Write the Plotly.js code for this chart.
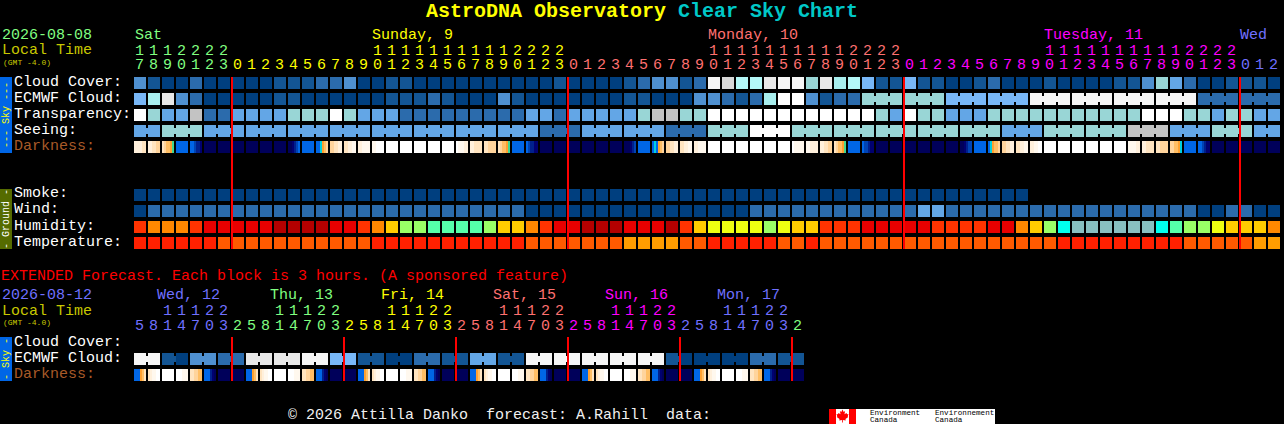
<!DOCTYPE html>
<html><head><meta charset="utf-8">
<script src="https://cdn.plot.ly/plotly-3.0.1.min.js"></script>
<style>html,body{margin:0;padding:0;background:#000;overflow:hidden}#chart{width:1284px;height:424px}</style>
</head><body><div id="chart"></div>
<script>
// ---------- data ----------
const hours = [17,18,19,20,21,22,23,
 0,1,2,3,4,5,6,7,8,9,10,11,12,13,14,15,16,17,18,19,20,21,22,23,
 0,1,2,3,4,5,6,7,8,9,10,11,12,13,14,15,16,17,18,19,20,21,22,23,
 0,1,2,3,4,5,6,7,8,9,10,11,12,13,14,15,16,17,18,19,20,21,22,23,
 0,1,2];
const extHours = [5,8,11,14,17,20,23,
 2,5,8,11,14,17,20,23, 2,5,8,11,14,17,20,23, 2,5,8,11,14,17,20,23,
 2,5,8,11,14,17,20,23, 2,5,8,11,14,17,20,23, 2];
const dayColors = ["#80FF80","#FFFF00","#FF7070","#FF00FF","#7070FF"];
const extDayColors = ["#7070FF","#80FF80","#FFFF00","#FF7070","#FF00FF","#7070FF","#80FF80"];
const dayLabels = ["Sat","Sunday, 9","Monday, 10","Tuesday, 11","Wed"];
const extDayLabels = ["Wed, 12","Thu, 13","Fri, 14","Sat, 15","Sun, 16","Mon, 17"];
const skyLabels = ["Cloud Cover:","ECMWF Cloud:","Transparency:","Seeing:","Darkness:"];
const groundLabels = ["Smoke:","Wind:","Humidity:","Temperature:"];
const extLabels = ["Cloud Cover:","ECMWF Cloud:","Darkness:"];

const skyPalette = ["#003F7F","#135594","#2B6BAC","#4F90D0","#78B7F7","#63A6E6","#99D6D6","#A8EEEE","#B4F8F8","#C3C3C3","#D8D8D8","#E8E8E8","#F6F6F6","#FFFFFF"];
const cloudCover = [3,1,0,0,2,0,0,0,0,0,1,1,1,2,2,3,0,0,1,1,0,
 0,0,0,0,0,0,0,0,0,1,0,0,0,0,1,2,3,3,1,2,12,10,8,8,11,12,12,6,11,7,8,
 4,1,1,4,1,1,0,0,1,2,0,0,0,1,0,0,0,0,1,1,3,6,5,2,0,0,1,1,1,0];
const ecmwfCloud = [4,7,11,3,2,0,0,0,0,0,1,1,0,0,0,0,0,0,1,1,1,
 2,1,0,0,0,3,1,0,0,0,0,0,0,0,1,1,0,0,0,3,3,2,1,2,7,13,13,3,1,2,2,
 6,6,6,6,6,6,4,4,4,4,4,4,12,12,12,12,12,12,12,12,12,12,12,12,2,2,2,2,2,2];
const transparency = [13,6,5,5,9,2,2,5,5,5,5,6,6,6,13,6,5,5,5,2,2,
 2,2,2,2,2,2,2,5,5,2,5,5,5,5,5,6,9,9,6,6,13,13,13,13,13,13,13,13,13,13,13,
 13,6,5,13,6,6,5,5,5,6,6,6,6,6,6,6,6,6,6,6,13,13,13,6,6,5,6,6,5,5];
const seeing = [5,5,6,6,6,5,5,5,5,5,5,5,5,5,5,5,5,5,5,5,5,5,5,5,5,5,5,5,5,
 2,2,2,5,5,5,5,5,5,2,2,2,6,6,6,13,13,13,6,6,6,6,6,6,
 6,6,6,6,6,6,6,6,6,5,5,5,6,6,6,6,6,6,9,9,9,5,5,5,6,6,6,5,5];
const seeingGroups = [2,3,3,3,3,3,3,3,3,3,3,3,3,3,3,3,3,3,3,3,3,3,3,3,3,3,3,2];
const ecmwfGroups = [1,1,1,1,1,1,1,1,1,1,1,1,1,1,1,1,1,1,1,1,1,1,1,1,1,1,1,1,1,1,1,1,1,1,1,1,1,1,1,1,1,1,1,1,1,1,1,1,1,1,1,1,3,3,3,3,3,3,3,3,3,3];
const smoke = [0,0,0,0,0,0,0,0,0,0,0,0,0,0,0,0,0,0,0,0,0,0,0,0,0,0,0,0,0,0,0,0,0,0,0,0,0,0,0,0,0,0,0,0,0,0,0,0,0,0,0,0,0,0,0,0,0,0,0,0,0,0,0,0];
const wind = [0,2,2,2,2,2,2,2,2,2,2,2,2,2,2,2,2,2,2,2,2,2,2,2,2,2,2,2,
 0,0,0,0,0,0,0,0,0,0,0,0,0,0,0,0,
 2,2,2,2,2,2,2,2,2,2,2,2,5,5,2,2,2,2,2,2,2,2,2,2,2,2,2,2,2,2,2,2,0,0,2,2,0,0];

const groundPalette = ["#B30000","#E80000","#FF3300","#FF8800","#FFCC00","#EEFF11","#99FF66","#55FFAA","#00FFEE","#88C0C0","#FF2000","#FF5A00","#FF9D00"];
const humidity = [2,3,3,3,2,1,1,1,1,1,0,0,0,0,1,1,2,3,4,6,6,
 7,7,7,7,6,4,4,3,2,1,1,0,0,0,1,1,1,0,2,4,5,5,5,5,6,5,4,4,2,2,2,
 1,1,1,1,1,2,2,2,2,1,1,3,4,6,8,9,9,9,9,9,9,8,7,6,6,5,4,4,4,3];
const temperature = [10,10,10,10,10,10,11,11,11,11,11,11,11,11,11,11,11,10,10,10,10,
 10,10,10,10,10,10,10,11,11,11,11,11,11,11,12,12,12,12,11,11,10,10,10,10,10,11,11,10,11,11,11,
 11,11,11,11,11,11,11,11,11,11,11,11,11,11,10,10,10,10,10,10,10,10,10,11,11,11,11,11,12,12];

const darkPalette = {a:"#FFFFFF",b:"#FFF8EE",c:"#FFF0DC",d:"#FFE4C0",e:"#FFD49C",f:"#FFBE64",g:"#FFA030",h:"#40D890",i:"#00D0E0",j:"#0066E6",k:"#0044B4",l:"#00208C",m:"#000070",n:"#00005A"};
const darkness = ["ccccdd","ccddee","deffgh","jjjjjj","jjkllm","nnnnnn","nnnnnn","nnnnnn","nnnnnn","nnnnnn","nnnnnn","nnmlkj","jjjjjj","jjigfe","eeddcc","ddccbb","ccbbbb","bbaaaa","aaaaaa","aaaaaa","aaaaaa",
 "aaaaaa","aaaaaa","abbbcc","ccdddd","ddeeee","deffgh","jjjjjj","jkllmm","nnnnnn","nnnnnn","nnnnnn","nnnnnn","nnnnnn","nnnnnn","nnnmlk","jjjjjj","jijgfe","eeddcc","ddccbb","ccbbbb","aaaaaa","aaaaaa","aaaaaa","aaaaaa","aaaaaa","aaaaaa","abbbbb","bbcccc","ccddee","deffgh","jjjjjj",
 "jkklmm","nnnnnn","nnnnnn","nnnnnn","nnnnnn","nnnnnn","nnnnnn","nnmlkk","jjjjjj","jigffe","eeddcc","ddccbb","ccbbaa","aaaaaa","aaaaaa","aaaaaa","aaaaaa","aaaaaa","aaaaaa","bbbbcc","ccdddd","ddeeee","eeffgi","jjjjjj","jjklmm","nnnnnn","nnnnnn","nnnnnn","nnnnnn","nnnnnn"];
const extEcmwf = [12,12,1,0,3,3,2,2,11,11,11,11,12,12,4,4,1,1,0,0,2,2,1,1,5,5,1,1,12,12,12,12,12,12,12,12,12,12,1,0,0,0,0,0,2,2,1,1];
const extGroups = [2,2,2,2,2,2,2,2,2,2,2,2,2,2,2,2,2,2,2,2,2,2,2,2];
const extDarkness = ["jjjgfd","dcbbaa","aaaaaa","aaabbb","ddeeff","jjjlmn","nnnnnn","nnnnnn",
 "jjjgfd","dcbbaa","aaaaaa","aaabbb","ddeeff","jjjlmn","nnnnnn","nnnnnn",
 "jjjgfd","dcbbaa","aaaaaa","aaabbb","ddeeff","jjjlmn","nnnnnn","nnnnnn",
 "jjjgfd","dcbbaa","aaaaaa","aaabbb","ddeeff","jjjlmn","nnnnnn","nnnnnn",
 "jjjgfd","dcbbaa","aaaaaa","aaabbb","ddeeff","jjjlmn","nnnnnn","nnnnnn",
 "jjjgfd","dcbbaa","aaaaaa","aaabbb","ddeeff","jjjlmn","nnnnnn","nnnnnn"];

// ---------- drawing ----------
const W = 1284, H = 424;
const PITCH = 14, CELL = 12, ROW = 16, X0 = 134, Y0 = 77;
const FONT = "Liberation Mono";
const cellW = CELL / PITCH, gapW = 2 / PITCH, cellH = CELL / ROW;
const rowAt = py => (py - Y0) / ROW;
const R = {cloud:rowAt(77),ecmwf:rowAt(93),trans:rowAt(109),seeing:rowAt(125),dark:rowAt(141),
           smoke:rowAt(189),wind:rowAt(205),hum:rowAt(221),temp:rowAt(237),
           xEcmwf:rowAt(353),xDark:rowAt(369)};

function cellTrace(row, values, palette) {
  return {type:"bar", x:values.map((_,c)=>c), y:values.map(()=>cellH), base:values.map(()=>row),
    width:cellW, offset:0, marker:{color:values.map(v=>palette[v]), line:{width:0}}, hoverinfo:"skip"};
}
function connectorTrace(row, values, groups, palette) {
  const xs=[], cs=[]; let c=0;
  groups.forEach(g=>{ for(let k=0;k<g-1;k++){ xs.push(c+k+cellW); cs.push(palette[values[c+k]]); } c+=g; });
  return {type:"bar", x:xs, y:xs.map(()=>6/ROW), base:xs.map(()=>row+3/ROW),
    width:gapW, offset:0, marker:{color:cs, line:{width:0}}, hoverinfo:"skip"};
}
function stripTrace(row, strings) {
  const xs=[], cs=[];
  strings.forEach((s,c)=>{ [...s].forEach((ch,k)=>{ xs.push(c+k*gapW); cs.push(darkPalette[ch]); }); });
  return {type:"bar", x:xs, y:xs.map(()=>cellH), base:xs.map(()=>row),
    width:gapW, offset:0, marker:{color:cs, line:{width:0}}, hoverinfo:"skip"};
}
function midnightTrace(hrs, rowA, rowB) {
  const xs=[];
  hrs.forEach((h,c)=>{ if(c>0 && h<hrs[c-1]) xs.push(c-1/PITCH); });
  return {type:"bar", x:xs, y:xs.map(()=>rowB-rowA), base:xs.map(()=>rowA),
    width:gapW, offset:0, marker:{color:"#FF0000", line:{width:0}}, hoverinfo:"skip"};
}
function digitTrace(hrs, colors, tensY, unitsY) {
  const xs=[],ys=[],ts=[],cs=[]; let d=0;
  hrs.forEach((h,c)=>{
    if(c>0 && h<hrs[c-1]) d++;
    const mid=c+cellW/2-0.5/PITCH;
    if(h>=10){ xs.push(mid); ys.push(rowAt(tensY)); ts.push(String(Math.floor(h/10))); cs.push(colors[d]); }
    xs.push(mid); ys.push(rowAt(unitsY)); ts.push(String(h%10)); cs.push(colors[d]);
  });
  return {type:"scatter", mode:"text", x:xs, y:ys, text:ts, textposition:"middle center",
    textfont:{family:FONT,size:15,color:cs}, hoverinfo:"skip", cliponaxis:false};
}

const traces = [
  cellTrace(R.cloud,cloudCover,skyPalette),
  cellTrace(R.ecmwf,ecmwfCloud,skyPalette),
  connectorTrace(R.ecmwf,ecmwfCloud,ecmwfGroups,skyPalette),
  cellTrace(R.trans,transparency,skyPalette),
  cellTrace(R.seeing,seeing,skyPalette),
  connectorTrace(R.seeing,seeing,seeingGroups,skyPalette),
  stripTrace(R.dark,darkness),
  cellTrace(R.smoke,smoke,skyPalette),
  cellTrace(R.wind,wind,skyPalette),
  cellTrace(R.hum,humidity,groundPalette),
  cellTrace(R.temp,temperature,groundPalette),
  cellTrace(R.xEcmwf,extEcmwf,skyPalette),
  connectorTrace(R.xEcmwf,extEcmwf,extGroups,skyPalette),
  stripTrace(R.xDark,extDarkness),
  midnightTrace(hours,rowAt(77),rowAt(249)),
  midnightTrace(extHours,rowAt(337),rowAt(381)),
  digitTrace(hours,dayColors,51,65.5),
  digitTrace(extHours,extDayColors,311,326)
];

const px = x => x/W, py = y => 1-y/H;
function txt(text,x,y,color,size,opt){
  return Object.assign({text:text,xref:"paper",yref:"paper",x:px(x-1),y:py(y+0.5),xanchor:"left",yanchor:"middle",
    showarrow:false,borderpad:0,font:{family:FONT,size:size||15,color:color}},opt||{});
}
function sideTxt(text,y,color){
  return {text:text,xref:"paper",yref:"paper",x:px(6),y:py(y),xanchor:"center",yanchor:"middle",textangle:-90,
    showarrow:false,borderpad:0,font:{family:FONT,size:10,color:color}};
}
const BROWN="#A85A28", OLIVE="#C8C800", WHITE="#FFFFFF";
const dayX=[135,372,708,1044,1240], extDayX=[157,270,381,493,605,717];
const ann = [
  txt("AstroDNA Observatory",426,11.5,"#FFFF00",20,{font:{family:FONT,size:20,color:"#FFFF00",weight:700}}),
  txt("Clear Sky Chart",678,11.5,"#00C8C8",20,{font:{family:FONT,size:20,color:"#00C8C8",weight:700}}),
  txt("2026-08-08",2,35,"#80FF80"),
  txt("Local Time",2,50,OLIVE),
  txt("(GMT -4.0)",3,62,OLIVE,8),
  txt("2026-08-12",2,294.5,"#7070FF"),
  txt("Local Time",2,311,OLIVE),
  txt("(GMT -4.0)",3,322,OLIVE,8),
  txt("EXTENDED Forecast. Each block is 3 hours. (A sponsored feature)",0.5,276,"#FF0000"),
  txt("\u00A9 2026 Attilla Danko\u00A0\u00A0forecast: A.Rahill\u00A0\u00A0data:",288,415,"#F0F0F0"),
  txt("Environment",870,412,"#000",7.6),
  txt("Canada",870,419.5,"#000",7.6),
  txt("Environnement",935,412,"#000",7.6),
  txt("Canada",935,419.5,"#000",7.6),
  sideTxt("--- Sky ---",115,"#FFFF00"),
  sideTxt("- Ground -",219,"#FFFFFF"),
  sideTxt("- Sky -",359,"#FFFF00")
];
dayLabels.forEach((t,i)=>ann.push(txt(t,dayX[i],35,dayColors[i])));
extDayLabels.forEach((t,i)=>ann.push(txt(t,extDayX[i],294.5,extDayColors[i])));
skyLabels.forEach((t,i)=>ann.push(txt(t,14,81.5+16*i,t==="Darkness:"?BROWN:WHITE)));
groundLabels.forEach((t,i)=>ann.push(txt(t,14,193.5+16*i,WHITE)));
extLabels.forEach((t,i)=>ann.push(txt(t,14,341.5+16*i,t==="Darkness:"?BROWN:WHITE)));

function rect(x0,y0,x1,y1,color){
  return {type:"rect",xref:"paper",yref:"paper",x0:px(x0),x1:px(x1),y0:py(y0),y1:py(y1),
    fillcolor:color,line:{width:0},layer:"above"};
}
const leaf=[[0,-6],[1.2,-3.6],[2.6,-4.4],[2,-1.2],[4,-2.6],[4.6,-1.2],[6,-1.4],[5.2,1],[5.8,1.6],[3,3.6],[3.2,5],[0.4,4.6],[0.4,7],[-0.4,7],[-0.4,4.6],[-3.2,5],[-3,3.6],[-5.8,1.6],[-5.2,1],[-6,-1.4],[-4.6,-1.2],[-4,-2.6],[-2,-1.2],[-2.6,-4.4],[-1.2,-3.6]];
const leafPath="M"+leaf.map(p=>px(842.5+p[0]).toFixed(6)+" "+py(415.5+p[1]).toFixed(6)).join("L")+"Z";
const shapes = [
  rect(0,77,12,153,"#0066E6"),
  rect(0,189,12,249,"#556B00"),
  rect(0,337,12,381,"#0066E6"),
  rect(829,409,995,424,"#FFFFFF"),
  rect(829,409,836,424,"#FF0000"),
  rect(849,409,856,424,"#FF0000"),
  {type:"path",xref:"paper",yref:"paper",path:leafPath,fillcolor:"#FF0000",line:{width:0},layer:"above"}
];

const layout = {
  width:W,height:H,margin:{l:0,r:0,t:0,b:0,pad:0},
  paper_bgcolor:"#000",plot_bgcolor:"#000",showlegend:false,barmode:"overlay",hovermode:false,
  xaxis:{range:[-X0/PITCH,(W-X0)/PITCH],visible:false,fixedrange:true},
  yaxis:{range:[(H-Y0)/ROW,-Y0/ROW],visible:false,fixedrange:true},
  annotations:ann,shapes:shapes
};
Plotly.newPlot("chart",traces,layout,{displayModeBar:false,responsive:false});
</script>
</body></html>
